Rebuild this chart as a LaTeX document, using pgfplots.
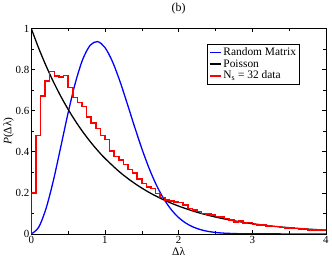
\documentclass[border=0pt]{standalone}
\usepackage{fontspec}
\setmainfont{Liberation Serif}
\usepackage{pgfplots}
\pgfplotsset{compat=1.18}
\begin{document}
\fontsize{10}{12}\selectfont
\begin{tikzpicture}
\begin{axis}[
  scale only axis, width=297pt, height=207pt,
  xmin=0, xmax=4, ymin=0, ymax=1,
  xtick={0,1,2,3,4}, minor xtick={0.5,1.5,2.5,3.5},
  ytick={0,0.2,0.4,0.6,0.8,1}, minor ytick={0.1,0.3,0.5,0.7,0.9},
  tick align=inside, major tick length=4pt, minor tick length=2.5pt,
  every tick/.style={black, line width=0.5pt},
  axis line style={line width=0.7pt},
  /pgf/number format/assume math mode=true,
  ticklabel style={font=\fontsize{11}{13}\selectfont},
  xticklabel style={yshift=1.5pt},
  yticklabel style={xshift=1.5pt},
  title={(b)}, title style={font=\fontsize{12}{14}\selectfont, yshift=5pt},
  xlabel={Δλ}, xlabel style={font=\fontsize{11.5}{13}\selectfont, yshift=3pt},
  ylabel={\textit{P}(Δλ)}, ylabel style={font=\fontsize{11.5}{13}\selectfont, yshift=-5pt},
  legend style={at={(0.597,0.925)}, anchor=north west, draw=black, line width=0.5pt,
    font=\fontsize{11.5}{12}\selectfont, inner sep=1.5pt, row sep=-1.5pt,
    legend cell align=left},
  legend image code/.code={\draw[#1] (0pt,0pt) -- (11pt,0pt);},
]
\addplot[blue, line width=1.3pt, smooth] coordinates {
(0,0) (0.1,0.03201) (0.2,0.12325) (0.3,0.26021) (0.4,0.42315) (0.5,0.58959)
(0.6,0.73803) (0.7,0.85136) (0.8,0.91863) (0.9,0.93634) (1.0,0.90757)
(1.1,0.84058) (1.2,0.74646) (1.3,0.63715) (1.4,0.52396) (1.5,0.41582)
(1.6,0.31890) (1.7,0.23641) (1.8,0.16976) (1.9,0.11810) (2.0,0.07965)
(2.1,0.05210) (2.2,0.03308) (2.3,0.02038) (2.4,0.01219) (2.5,0.00709)
(2.6,0.00401) (2.8,0.00117) (3.0,0.0003) (3.5,0.0) (4.0,0.0)
};
\addlegendentry{Random Matrix}
\addplot[black, line width=1.3pt, smooth] coordinates {
(0,1) (0.1,0.90484) (0.2,0.81873) (0.3,0.74082) (0.4,0.67032) (0.5,0.60653)
(0.6,0.54881) (0.7,0.49659) (0.8,0.44933) (0.9,0.40657) (1.0,0.36788)
(1.2,0.30119) (1.4,0.24660) (1.6,0.20190) (1.8,0.16530) (2.0,0.13534)
(2.25,0.10540) (2.5,0.08208) (2.75,0.06393) (3.0,0.04979) (3.25,0.03877)
(3.5,0.03020) (3.75,0.02352) (4.0,0.01832)
};
\addlegendentry{Poisson}
\addplot[red, line width=1.6pt, const plot, line join=miter] coordinates {
(0,0) (0,0.20) (0.0625,0.48) (0.125,0.67) (0.1875,0.745) (0.25,0.79)
(0.3125,0.77) (0.375,0.765) (0.4375,0.772) (0.5,0.713) (0.5625,0.665)
(0.625,0.64) (0.6875,0.62) (0.75,0.57) (0.8125,0.54) (0.875,0.513)
(0.9375,0.48) (1.0,0.46) (1.0625,0.405) (1.125,0.377) (1.1875,0.36)
(1.25,0.337) (1.3125,0.313) (1.375,0.297) (1.4375,0.268) (1.5,0.245)
(1.5625,0.228) (1.625,0.222) (1.6875,0.197) (1.75,0.178) (1.8125,0.165)
(1.875,0.16) (1.9375,0.155) (2.0,0.152) (2.0625,0.14) (2.125,0.124)
(2.1875,0.115) (2.25,0.11) (2.3125,0.1) (2.375,0.096) (2.4375,0.092)
(2.5,0.085) (2.5625,0.082) (2.625,0.074) (2.6875,0.069) (2.75,0.058)
(2.8125,0.064) (2.875,0.052) (2.9375,0.055) (3.0,0.045) (3.0625,0.043)
(3.125,0.042) (3.1875,0.038) (3.25,0.036) (3.3125,0.037) (3.375,0.031)
(3.4375,0.028) (3.5,0.029) (3.5625,0.027) (3.625,0.025) (3.6875,0.024)
(3.75,0.02) (3.8125,0.019) (3.875,0.018) (3.9375,0.016) (4.0,0.016)
};
\addlegendentry{N\textsubscript{s} = 32 data}
\end{axis}
\end{tikzpicture}
\end{document}
